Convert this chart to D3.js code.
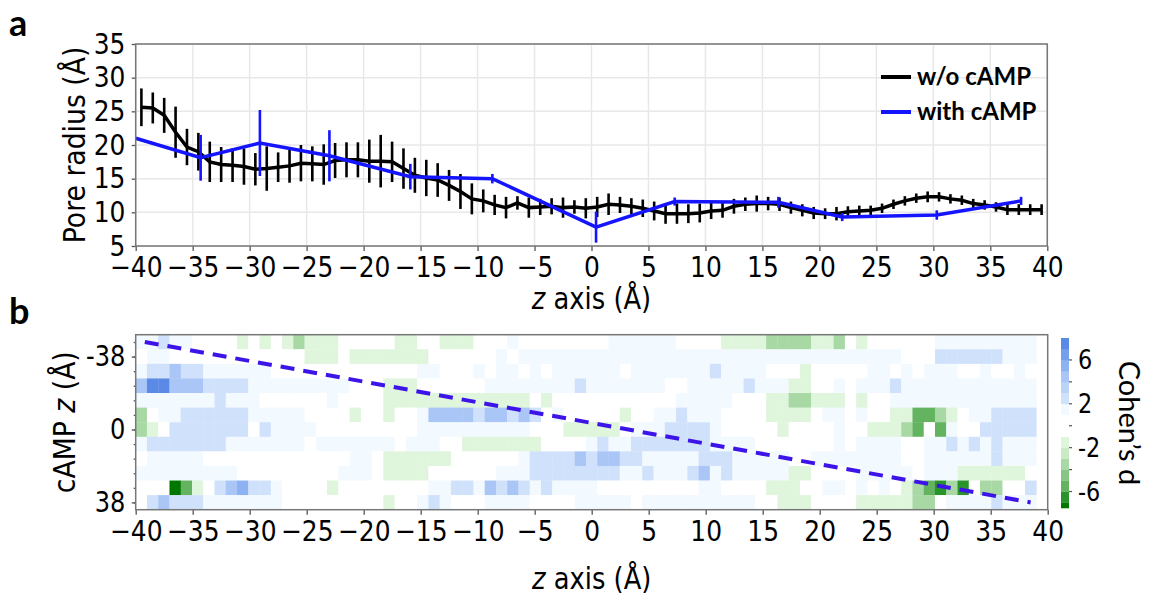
<!DOCTYPE html>
<html>
<head>
<meta charset="utf-8">
<script src="https://cdnjs.cloudflare.com/ajax/libs/d3/7.8.5/d3.min.js"></script>
<style>
body { margin: 0; background: #fff; }
.cond { font-family: 'DejaVu Sans', sans-serif; }
.lato { font-family: Lato, 'Open Sans', sans-serif; }
</style>
</head>
<body>
<svg id="chart" width="1149" height="596"></svg>
<script>
//data - panel a (pore radius along z)
var seriesNames = ['w/o cAMP', 'with cAMP'];

var blackZ = [-39.5, -38.5, -37.5, -36.5, -35.5, -34.5, -33.5, -32.5, -31.5, -30.5,
    -29.5, -28.5, -27.5, -26.5, -25.5, -24.5, -23.5, -22.5, -21.5, -20.5,
    -19.5, -18.5, -17.5, -16.5, -15.5, -14.5, -13.5, -12.5, -11.5, -10.5,
    -9.5, -8.5, -7.5, -6.5, -5.5, -4.5, -3.5, -2.5, -1.5, -0.5,
    0.5, 1.5, 2.5, 3.5, 4.5, 5.5, 6.5, 7.5, 8.5, 9.5,
    10.5, 11.5, 12.5, 13.5, 14.5, 15.5, 16.5, 17.5, 18.5, 19.5,
    20.5, 21.5, 22.5, 23.5, 24.5, 25.5, 26.5, 27.5, 28.5, 29.5,
    30.5, 31.5, 32.5, 33.5, 34.5, 35.5, 36.5, 37.5, 38.5, 39.5];

var blackR = [25.6, 25.5, 24.4, 21.9, 19.7, 19.0, 17.5, 17.1, 17.0, 16.8,
    16.4, 16.5, 16.7, 16.9, 17.3, 17.2, 17.1, 17.7, 17.8, 17.8,
    17.6, 17.6, 17.5, 16.5, 15.5, 15.1, 14.8, 14.0, 13.1, 12.0,
    11.7, 11.1, 10.7, 11.4, 10.7, 10.8, 10.9, 10.7, 10.8, 10.6,
    10.8, 11.2, 11.1, 10.9, 10.6, 10.2, 9.8, 9.8, 9.8, 9.9,
    10.2, 10.3, 10.9, 11.2, 11.3, 11.3, 11.2, 10.7, 10.3, 9.9,
    9.8, 9.8, 10.1, 10.2, 10.3, 10.6, 11.2, 11.7, 12.1, 12.3,
    12.3, 12.0, 11.8, 11.3, 11.1, 10.8, 10.4, 10.4, 10.4, 10.4];

var blackErr = [2.8, 2.3, 2.6, 3.8, 2.7, 2.8, 3.0, 2.6, 2.5, 2.7,
    2.4, 3.3, 2.2, 2.5, 2.7, 2.6, 3.0, 2.6, 2.6, 2.6,
    3.2, 3.9, 3.0, 3.0, 2.6, 2.7, 2.5, 2.3, 2.6, 2.3,
    1.7, 1.5, 1.6, 1.0, 1.5, 1.2, 1.2, 1.5, 1.0, 1.5,
    1.5, 1.6, 1.2, 1.2, 1.3, 1.4, 1.5, 1.5, 1.4, 1.4,
    1.2, 1.1, 1.1, 1.0, 1.2, 1.0, 1.0, 0.9, 0.9, 0.9,
    0.8, 1.0, 0.8, 0.8, 0.7, 0.7, 0.7, 0.7, 0.7, 0.8,
    0.7, 0.7, 0.7, 0.7, 0.7, 0.7, 0.8, 0.8, 0.8, 0.8];

var blueZ = [-40, -34.3, -29.1, -23.0, -15.9, -8.7, 0.4, 7.3, 16.4, 22.0, 30.3, 37.7];
var blueR = [21.0, 18.1, 20.3, 18.4, 15.3, 15.0, 7.8, 11.6, 11.5, 9.3, 9.6, 11.7];
var blueErr = [0, 3.4, 4.9, 3.8, 1.9, 0.7, 2.3, 0.6, 0.8, 0.6, 0.7, 0.6];

var zTicks = [-40, -35, -30, -25, -20, -15, -10, -5, 0, 5, 10, 15, 20, 25, 30, 35, 40];
var poreTicks = [5, 10, 15, 20, 25, 30, 35];

//data - panel b (Cohen's d map, one string per cAMP z row, one letter per z bin)
var campRows = [-45.6, -38, -30.4, -22.8, -15.2, -7.6, 0, 7.6, 15.2, 22.8, 30.4, 38];
var campTicks = [-38, 0, 38];
var heatRows = [
    'aabaa....g.g.ghggg.....gg..ggg...a........aaaaaa....gggghhhhggh.g......aaaaaaaaa',
    '.aa............ggg.ggggggg......a.aaaaaaaaaaaaaaaaaaaaaaaaaaaaaaaaaa...bbbbbbaaa',
    'abbcbbaaaaaa.............aa...a.aa.a.aaaaaa.aaaaaaabaaaa...g.....aa.a.aaa..a..a.',
    'ceecccbbbbaaaaaaaaa...ggg......aaaaaaaabaaaaaaa..aaaaabaaagg..a.aaabaaaaaaaaaaaa',
    'aaaaaaabaaa......a....ggggggggggggg.g...........aaaaa...gghhggg.g..aaaaaaaaaaaaa',
    'h.aabbbbbbaaaaa....g..g..accccbccbcb.a.....g..aabaaa....gggg.aa.a..ggiihg.aabbbb',
    'hg.bbbbbbb.baaaa.........aaaaaaaaaa...ggggg.aaabbbba.....g....a..ggghi.ia..bbbbb',
    'abbbbbbbaaaaaaa.aaaaaaa.aaa..ggggggg....abaabbbbbbbaaaa.......a.aaaa..aabababaaa',
    '.aaaaa.............aa.gggggg......abbbbcbccbbaaaaabbbaaaaa..aaaaaaaa..aaaaaabaaa',
    'aaaaaaaaa.........aaa.gggg......aaabbbbbbbbaabaaabcabaaaaagg....aaaaa.aaagggggg.',
    '...kig.bcdbba....g........aabbacbcbabaaaa.........aa....ggg..aa.a.a.ghijhj.hh..b',
    '.bcbbbaaaaaaa.........g..aba...aaaa....aaaaa.aaaaaaaaaa..ggg....ggggghh.aaaabaaa'
];
var heatCodes = {
    'k': -7.3, 'j': -6.5, 'i': -5.5, 'h': -3.5, 'g': -1.5, '.': 0,
    'a': 1.5, 'b': 2.5, 'c': 4.5, 'd': 5.5, 'e': 7.5
};
var heatZStart = -40,
    heatZEnd = 39;
var diagZ = [-39.2, 38.5],
    diagCamp = [-45.6, 38];

//colour bar
var cohenEdges = [-7.5, -7, -6, -5, -4, -3, -2, -1, 1, 2, 3, 4, 5, 6, 7, 8];
var cohenColors = ['#007800', '#2b932b', '#63b361', '#86c583', '#a8d9a5', '#c8eac4', '#dff5dc',
    '#ffffff', '#f2f9ff', '#d0e1fb', '#bcd3f8', '#a9c6f7', '#8db2f2', '#739fed', '#5a8ae6'];
var cohenTicks = [-6, -4, -2, 0, 2, 4, 6];
var cohenLabels = [-6, -2, 2, 6];

//containers
var svg = d3.select('#chart');

//sizes
var aBox = {left: 135.7, right: 1047.3, top: 44, bottom: 246},
    bBox = {left: 135.7, right: 1047.7, top: 334.7, bottom: 509.7},
    cbBox = {left: 1061, width: 8, top: 338, bottom: 508};

//scales
var xA, yA, xB, colB, rowB, yBLin, cohenColor, cbScale;

//other
var squeeze = 'scale(0.86,1)';
var lineColors = {'w/o cAMP': '#000000', 'with cAMP': '#1414ff'};
var minus = function(d) { return d < 0 ? '\u2212' + Math.abs(d) : '' + d; };
var hyphen = function(d) { return d < 0 ? '-' + Math.abs(d) : '' + d; };

function styleAxis(g, size) {
    g.select('.domain').remove();
    g.attr('font-family', null).attr('font-size', null);
    g.selectAll('.tick line').attr('stroke', '#555').attr('stroke-width', 1.3);
    g.selectAll('.tick text')
        .attr('class', 'cond')
        .attr('transform', squeeze)
        .style('font-size', size + 'px')
        .attr('fill', '#000');
}

function buildPanelA() {
    var g = svg.append('g').attr('class', 'panel-a');

    //grid
    g.append('g').selectAll('line').data(zTicks).enter().append('line')
        .attr('x1', function(d) { return xA(d); })
        .attr('x2', function(d) { return xA(d); })
        .attr('y1', aBox.top).attr('y2', aBox.bottom)
        .attr('stroke', '#e8e8e8').attr('stroke-width', 1.5);
    g.append('g').selectAll('line').data(poreTicks).enter().append('line')
        .attr('y1', function(d) { return yA(d); })
        .attr('y2', function(d) { return yA(d); })
        .attr('x1', aBox.left).attr('x2', aBox.right)
        .attr('stroke', '#e8e8e8').attr('stroke-width', 1.5);

    //axes
    var xAxisG = g.append('g')
        .attr('transform', 'translate(0,' + aBox.bottom + ')')
        .call(d3.axisBottom(xA).tickValues(zTicks).tickSize(5).tickPadding(5).tickFormat(minus));
    styleAxis(xAxisG, 29);

    var yAxisG = g.append('g')
        .attr('transform', 'translate(' + aBox.left + ',0)')
        .call(d3.axisLeft(yA).tickValues(poreTicks).tickSize(4).tickPadding(8));
    styleAxis(yAxisG, 29);

    var blueData = blueZ.map(function(z, i) { return {z: z, r: blueR[i], e: blueErr[i]}; });
    var blackData = blackZ.map(function(z, i) { return {z: z, r: blackR[i], e: blackErr[i]}; });

    var line = d3.line()
        .x(function(d) { return xA(d.z); })
        .y(function(d) { return yA(d.r); });

    //w/o cAMP
    g.append('g').selectAll('line').data(blackData).enter().append('line')
        .attr('x1', function(d) { return xA(d.z); })
        .attr('x2', function(d) { return xA(d.z); })
        .attr('y1', function(d) { return yA(d.r - d.e); })
        .attr('y2', function(d) { return yA(d.r + d.e); })
        .attr('stroke', lineColors['w/o cAMP']).attr('stroke-width', 2.6);

    g.append('path').datum(blackData)
        .attr('d', line)
        .attr('fill', 'none')
        .attr('stroke', lineColors['w/o cAMP'])
        .attr('stroke-width', 3.5);

    //with cAMP
    g.append('g').selectAll('line').data(blueData.filter(function(d) { return d.e > 0; })).enter().append('line')
        .attr('x1', function(d) { return xA(d.z); })
        .attr('x2', function(d) { return xA(d.z); })
        .attr('y1', function(d) { return yA(d.r - d.e); })
        .attr('y2', function(d) { return yA(d.r + d.e); })
        .attr('stroke', lineColors['with cAMP']).attr('stroke-width', 2.6);

    g.append('path').datum(blueData)
        .attr('d', line)
        .attr('fill', 'none')
        .attr('stroke', lineColors['with cAMP'])
        .attr('stroke-width', 3.5);

    //frame
    g.append('rect')
        .attr('x', aBox.left).attr('y', aBox.top)
        .attr('width', aBox.right - aBox.left).attr('height', aBox.bottom - aBox.top)
        .attr('fill', 'none').attr('stroke', '#777').attr('stroke-width', 1.5);

    //legend
    var leg = g.append('g').selectAll('g').data(seriesNames).enter().append('g')
        .attr('transform', function(d, i) { return 'translate(881,' + (77 + i * 35) + ')'; });
    leg.append('line')
        .attr('x1', 0).attr('x2', 30)
        .attr('stroke', function(d) { return lineColors[d]; })
        .attr('stroke-width', 4);
    leg.append('text')
        .attr('class', 'lato')
        .attr('x', 36).attr('y', 0).attr('dy', '0.35em')
        .style('font-size', '24px').style('font-weight', 'bold')
        .text(function(d) { return d; });

    //titles
    g.append('text')
        .attr('class', 'cond')
        .attr('transform', 'translate(74,' + ((aBox.top + aBox.bottom) / 2) + ') rotate(-90) ' + squeeze)
        .attr('text-anchor', 'middle').attr('dy', '0.35em')
        .style('font-size', '31px')
        .text('Pore radius (\u00c5)');

    var xt = g.append('text')
        .attr('class', 'cond')
        .attr('transform', 'translate(' + ((aBox.left + aBox.right) / 2) + ',298) ' + squeeze)
        .attr('dy', '0.35em')
        .attr('text-anchor', 'middle')
        .style('font-size', '30px');
    xt.append('tspan').style('font-style', 'italic').text('z');
    xt.append('tspan').text(' axis (\u00c5)');

    svg.append('text')
        .attr('class', 'lato')
        .attr('x', 9).attr('y', 36)
        .style('font-size', '36px').style('font-weight', 'bold')
        .text('a');
}

function buildPanelB() {
    var g = svg.append('g').attr('class', 'panel-b');

    //cells
    var cells = [];
    heatRows.forEach(function(row, r) {
        row.split('').forEach(function(ch, c) {
            cells.push({row: campRows[r], col: c, d: heatCodes[ch]});
        });
    });

    g.append('g').selectAll('rect').data(cells).enter().append('rect')
        .attr('x', function(d) { return colB(d.col); })
        .attr('y', function(d) { return rowB(d.row); })
        .attr('width', colB.bandwidth() + 0.3)
        .attr('height', rowB.bandwidth() + 0.3)
        .attr('fill', function(d) { return cohenColor(d.d); });

    //diagonal
    g.append('line')
        .attr('x1', xB(diagZ[0])).attr('y1', yBLin(diagCamp[0]))
        .attr('x2', xB(diagZ[1])).attr('y2', yBLin(diagCamp[1]))
        .attr('stroke', '#3d14e8').attr('stroke-width', 4)
        .attr('stroke-dasharray', '14,9');

    //axes
    var xAxisG = g.append('g')
        .attr('transform', 'translate(0,' + bBox.bottom + ')')
        .call(d3.axisBottom(xB).tickValues(zTicks).tickSize(5).tickPadding(6).tickFormat(minus));
    styleAxis(xAxisG, 29);

    var minorG = g.append('g')
        .attr('transform', 'translate(' + bBox.left + ',0)')
        .call(d3.axisLeft(yBLin).tickValues(campRows).tickSize(2).tickFormat(''));
    styleAxis(minorG, 10);

    var yAxisG = g.append('g')
        .attr('transform', 'translate(' + bBox.left + ',0)')
        .call(d3.axisLeft(yBLin).tickValues(campTicks).tickSize(4).tickPadding(8).tickFormat(hyphen));
    styleAxis(yAxisG, 28);

    //frame
    g.append('rect')
        .attr('x', bBox.left).attr('y', bBox.top)
        .attr('width', bBox.right - bBox.left).attr('height', bBox.bottom - bBox.top)
        .attr('fill', 'none').attr('stroke', '#777').attr('stroke-width', 1.5);

    //titles
    var yt = g.append('text')
        .attr('class', 'cond')
        .attr('transform', 'translate(64,' + ((bBox.top + bBox.bottom) / 2) + ') rotate(-90) ' + squeeze)
        .attr('text-anchor', 'middle').attr('dy', '0.35em')
        .style('font-size', '31px');
    yt.append('tspan').text('cAMP ');
    yt.append('tspan').style('font-style', 'italic').text('z');
    yt.append('tspan').text(' (\u00c5)');

    var xt = g.append('text')
        .attr('class', 'cond')
        .attr('transform', 'translate(' + ((bBox.left + bBox.right) / 2) + ',578) ' + squeeze)
        .attr('dy', '0.35em')
        .attr('text-anchor', 'middle')
        .style('font-size', '30px');
    xt.append('tspan').style('font-style', 'italic').text('z');
    xt.append('tspan').text(' axis (\u00c5)');

    svg.append('text')
        .attr('class', 'lato')
        .attr('x', 9).attr('y', 324)
        .style('font-size', '36px').style('font-weight', 'bold')
        .text('b');

    //colour bar
    var bands = d3.pairs(cohenEdges);
    var cb = svg.append('g').attr('class', 'colorbar');
    cb.selectAll('rect').data(bands).enter().append('rect')
        .attr('x', cbBox.left)
        .attr('y', function(d) { return cbScale(d[1]); })
        .attr('width', cbBox.width)
        .attr('height', function(d) { return cbScale(d[0]) - cbScale(d[1]) + 0.3; })
        .attr('fill', function(d) { return cohenColor((d[0] + d[1]) / 2); });

    cb.selectAll('line').data(cohenTicks).enter().append('line')
        .attr('x1', cbBox.left + cbBox.width).attr('x2', cbBox.left + cbBox.width + 3)
        .attr('y1', function(d) { return cbScale(d); })
        .attr('y2', function(d) { return cbScale(d); })
        .attr('stroke', '#555').attr('stroke-width', 1.2);

    cb.selectAll('text').data(cohenLabels).enter().append('text')
        .attr('class', 'cond')
        .attr('transform', function(d) {
            return 'translate(' + (cbBox.left + cbBox.width + 9) + ',' + cbScale(d) + ') ' + squeeze;
        })
        .attr('dy', '0.35em')
        .style('font-size', '26px')
        .text(hyphen);

    svg.append('text')
        .attr('class', 'lato')
        .attr('transform', 'translate(1129,' + ((cbBox.top + cbBox.bottom) / 2) + ') rotate(90)')
        .attr('text-anchor', 'middle').attr('dy', '0.35em')
        .style('font-size', '29px')
        .text('Cohen\u2019s d');
}

//set up scales
function setupChart() {
    xA = d3.scaleLinear().domain([-40, 40]).range([aBox.left, aBox.right]);
    yA = d3.scaleLinear().domain([5, 35]).range([aBox.bottom, aBox.top]);

    xB = d3.scaleLinear().domain([-40, 40]).range([bBox.left, bBox.right]);
    colB = d3.scaleBand()
        .domain(d3.range(heatRows[0].length))
        .range([xB(heatZStart), xB(heatZEnd)])
        .padding(0);
    rowB = d3.scaleBand().domain(campRows).range([bBox.top, bBox.bottom]).padding(0);
    yBLin = d3.scaleLinear()
        .domain([campRows[0], campRows[campRows.length - 1]])
        .range([rowB(campRows[0]) + rowB.bandwidth() / 2,
                rowB(campRows[campRows.length - 1]) + rowB.bandwidth() / 2]);

    cohenColor = d3.scaleThreshold()
        .domain(cohenEdges.slice(1, cohenEdges.length - 1))
        .range(cohenColors);
    cbScale = d3.scaleLinear()
        .domain([cohenEdges[0], cohenEdges[cohenEdges.length - 1]])
        .range([cbBox.bottom, cbBox.top]);

    buildPanelA();
    buildPanelB();
}

setupChart();
</script>
</body>
</html>
